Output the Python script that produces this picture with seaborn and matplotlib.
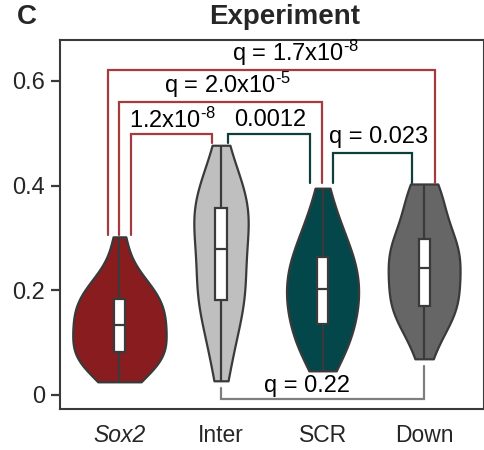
import numpy as np
import pandas as pd
import matplotlib
matplotlib.use('Agg')
import matplotlib.pyplot as plt
import seaborn as sns

groups = ['Sox2', 'Inter', 'SCR', 'Down']
colors = ['#881C1F', '#BFBFBF', '#04474B', '#666666']

sox2 = [0.025, 0.034, 0.044, 0.053, 0.061, 0.068, 0.075, 0.080, 0.084, 0.090,
        0.096, 0.103, 0.110, 0.118, 0.126, 0.134, 0.140, 0.146, 0.152, 0.158,
        0.164, 0.171, 0.179, 0.187, 0.194, 0.201, 0.209, 0.219, 0.232, 0.262, 0.302]
inter = [0.027, 0.058, 0.088, 0.112, 0.132, 0.148, 0.163, 0.176, 0.187, 0.197,
         0.207, 0.217, 0.229, 0.242, 0.258, 0.279, 0.293, 0.303, 0.313, 0.323,
         0.333, 0.343, 0.353, 0.361, 0.370, 0.380, 0.390, 0.403, 0.418, 0.443, 0.477]
scr = [0.046, 0.062, 0.077, 0.090, 0.101, 0.111, 0.120, 0.128, 0.144, 0.152,
       0.160, 0.167, 0.174, 0.181, 0.190, 0.202, 0.210, 0.218, 0.226, 0.234,
       0.242, 0.250, 0.258, 0.268, 0.280, 0.293, 0.305, 0.318, 0.335, 0.360, 0.395]
down = [0.069, 0.100, 0.122, 0.138, 0.150, 0.158, 0.164, 0.168, 0.172, 0.182,
        0.193, 0.204, 0.214, 0.224, 0.233, 0.242, 0.250, 0.258, 0.266, 0.274,
        0.282, 0.290, 0.296, 0.300, 0.310, 0.335, 0.355, 0.370, 0.383, 0.394, 0.403]

# significance brackets: label, x0, x1, bar height, left leg end, right leg end, colour, text x, text y
br_labels = [r'q = 1.7x10$^{\text{-8}}$', r'q = 2.0x10$^{\text{-5}}$',
             r'1.2x10$^{\text{-8}}$', '0.0012', 'q = 0.023', 'q = 0.22']
br_x0 = [-0.11, 0.0, 0.115, 1.07, 2.10, 1.0]
br_x1 = [3.11, 1.99, 0.915, 1.88, 2.88, 3.0]
br_y = [0.620, 0.559, 0.498, 0.498, 0.462, -0.008]
br_l0 = [0.305, 0.305, 0.305, 0.481, 0.405, 0.013]
br_l1 = [0.405, 0.405, 0.481, 0.405, 0.405, 0.055]
br_col = ['#A33B3F', '#A33B3F', '#A33B3F', '#0E3F3C', '#0E3F3C', '#7F7F7F']
br_tx = [1.73, 1.06, 0.52, 1.48, 2.55, 1.85]
br_ty = [0.653, 0.592, 0.525, 0.525, 0.493, 0.017]

df = pd.DataFrame({
    'group': np.repeat(groups, [len(sox2), len(inter), len(scr), len(down)]),
    'value': sox2 + inter + scr + down,
})

sns.set_style('white')
plt.rcParams['font.family'] = ['Liberation Sans', 'DejaVu Sans']
plt.rcParams['mathtext.fontset'] = 'custom'
plt.rcParams['mathtext.rm'] = 'Liberation Sans'
plt.rcParams['mathtext.it'] = 'Liberation Sans:italic'

fig = plt.figure(figsize=(4.85, 4.5), dpi=100)
ax = fig.add_axes([0.124, 0.091, 0.874, 0.820])

edge = '#3A3A3A'
n0 = len(ax.collections)
# no hue here, so the area norm is shared across all four violins
sns.violinplot(data=df, x='group', y='value', order=groups, color='gray',
               inner=None, cut=0, density_norm='area', width=0.92,
               linewidth=1.6, linecolor=edge, saturation=1, ax=ax)
for coll, c in zip(ax.collections[n0:], colors):
    coll.set_facecolor(c)

sns.boxplot(data=df, x='group', y='value', order=groups, color='white',
            width=0.11, whis=(0, 100), showcaps=False, fliersize=0,
            linewidth=1.6, linecolor=edge, saturation=1, ax=ax)

for lab, x0, x1, y, l0, l1, c, tx, ty in zip(br_labels, br_x0, br_x1, br_y,
                                            br_l0, br_l1, br_col, br_tx, br_ty):
    ax.plot([x0, x0, x1, x1], [l0, y, y, l1], color=c, lw=1.6,
            solid_joinstyle='miter', zorder=5)
    ax.text(tx, ty, lab, ha='center', va='center', fontsize=17, color='black')

ax.set_xlim(-0.584, 3.59)
ax.set_ylim(-0.027, 0.678)
ax.set_yticks([0, 0.2, 0.4, 0.6])
ax.set_yticklabels(['0', '0.2', '0.4', '0.6'])
ax.set_xticks(range(4))
ax.set_xticklabels(groups)
ax.get_xticklabels()[0].set_style('italic')
ax.set_xlabel('')
ax.set_ylabel('')
ax.tick_params(axis='y', length=6.5, width=1.6, color=edge, labelsize=17, pad=4.5,
               left=True)
ax.tick_params(axis='x', length=0, labelsize=16.5, pad=11)
for s in ax.spines.values():
    s.set_color(edge)
    s.set_linewidth(1.5)

fig.text(0.586, 0.962, 'Experiment', ha='center', va='center', fontsize=20,
         fontweight='bold')
fig.text(0.035, 0.962, 'C', ha='left', va='center', fontsize=20, fontweight='bold')

fig.savefig('out.png', dpi=100)
